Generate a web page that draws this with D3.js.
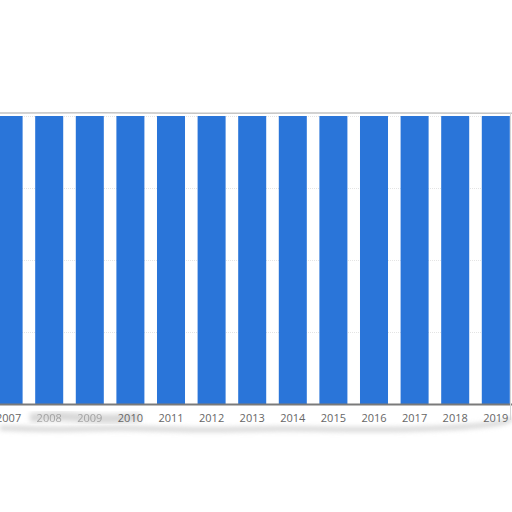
<!DOCTYPE html>
<html>
<head>
<meta charset="utf-8">
<script src="https://cdn.jsdelivr.net/npm/d3@7"></script>
<style>
  html, body { margin: 0; padding: 0; background: #fff; }
  svg { display: block; font-family: "Open Sans", sans-serif; }
</style>
</head>
<body>
<div id="chart"></div>
<script>
// chart data
const years = ['2007', '2008', '2009', '2010', '2011', '2012', '2013', '2014', '2015', '2016', '2017', '2018', '2019'];
const values = [100, 100, 100, 100, 100, 100, 100, 100, 100, 100, 100, 100, 100];
const yTicks = [0, 25, 50, 75, 100];

const width = 512, height = 512;
const plotTop = 116, plotBottom = 404;

const svg = d3.select('#chart')
    .append('svg')
    .attr('width', width)
    .attr('height', height);

const defs = svg.append('defs');
defs.append('filter')
    .attr('id', 'soft')
    .attr('x', '-10%').attr('y', '-200%')
    .attr('width', '120%').attr('height', '500%')
    .append('feGaussianBlur')
    .attr('stdDeviation', 2.5);

const x = d3.scaleBand()
    .domain(years)
    .range([-11.7, 516.1])
    .paddingInner(0.31)
    .paddingOuter(0.155);

const y = d3.scaleLinear()
    .domain([0, 100])
    .range([plotBottom, plotTop]);

// torn paper shadow along the bottom edge
const edge = d3.line().curve(d3.curveBasis);
svg.append('path')
    .attr('d', edge([[0, 428], [60, 430], [120, 427], [200, 431], [280, 428], [360, 430], [440, 429], [505, 424], [512, 418]]))
    .attr('fill', 'none')
    .attr('stroke', '#cfcfcf')
    .attr('stroke-width', 4)
    .attr('filter', 'url(#soft)');
// smudge over the faded labels
svg.append('path')
    .attr('d', edge([[30, 418], [60, 415], [100, 420], [140, 417]]))
    .attr('fill', 'none')
    .attr('stroke', '#d8d8d8')
    .attr('stroke-width', 9)
    .attr('filter', 'url(#soft)');

// top torn edge
svg.append('path')
    .attr('d', edge([[0, 113], [100, 112.5], [200, 113.5], [300, 113], [400, 112.8], [512, 113.2]]))
    .attr('fill', 'none')
    .attr('stroke', '#c4c4c4')
    .attr('stroke-width', 1.5);

// gridlines
svg.append('g')
    .selectAll('line')
    .data(yTicks.slice(1))
    .join('line')
    .attr('x1', 0)
    .attr('x2', width)
    .attr('y1', d => y(d) + 0.5)
    .attr('y2', d => y(d) + 0.5)
    .attr('stroke', '#e4e4e4')
    .attr('stroke-dasharray', '1,1');

// bars
svg.append('g')
    .selectAll('rect')
    .data(years)
    .join('rect')
    .attr('x', d => x(d))
    .attr('y', (d, i) => y(values[i]))
    .attr('width', x.bandwidth())
    .attr('height', (d, i) => plotBottom - y(values[i]))
    .attr('fill', '#2a75d9');

// x axis
const xAxis = svg.append('g')
    .attr('transform', `translate(0,${plotBottom})`)
    .call(d3.axisBottom(x).tickSize(0).tickPadding(10));
xAxis.select('.domain')
    .attr('stroke', '#7a7a7a')
    .attr('stroke-width', 2);
xAxis.selectAll('text')
    .attr('fill', '#666')
    .attr('font-size', 11)
    .attr('font-family', '"Open Sans", sans-serif')
    .attr('opacity', d => (d === '2008' || d === '2009') ? 0.5 : 1);

// right torn edge
svg.append('line')
    .attr('x1', 510.5).attr('x2', 510.5)
    .attr('y1', 113).attr('y2', 420)
    .attr('stroke', '#d6d6d6')
    .attr('stroke-width', 1);
</script>
</body>
</html>
